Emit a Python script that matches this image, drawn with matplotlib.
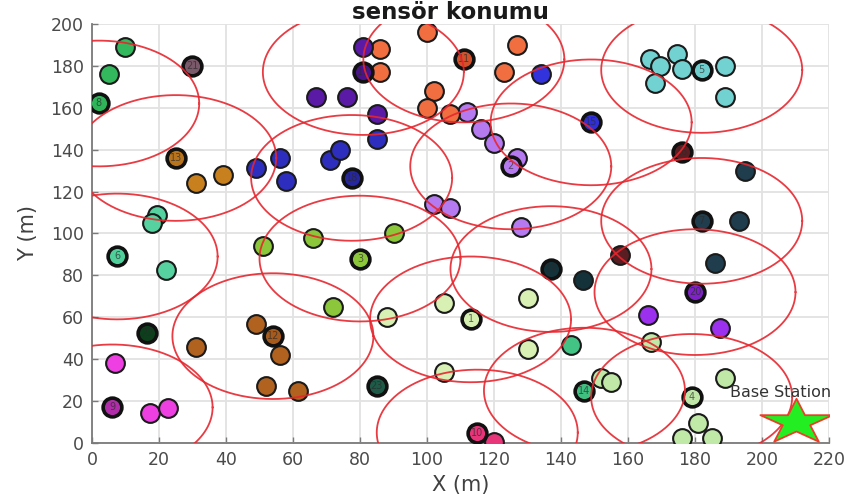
import numpy as np
import matplotlib
matplotlib.use("Agg")
import matplotlib.pyplot as plt
from matplotlib.path import Path

R = 30  # radio range of a cluster head (m)

# cluster heads: position, label, fill colour, whether its range circle is drawn
head_x = [113, 125, 80, 179, 182, 7.5, 182, 2, 6, 115, 111, 54, 25, 147, 149, 176, 81, 77.5, 137, 180, 30, 16.5, 85]
head_y = [59, 132, 88, 22, 178, 89, 106, 162, 17, 5, 183, 51, 136, 25, 153, 139, 177, 126.5, 83, 72, 180, 52.5, 27]
head_lbl = ['1', '2', '3', '4', '5', '6', '7', '8', '9', '10', '11', '12', '13', '14', '15',
            '16', '17', '18', '19', '20', '21', '22', '23']
head_col = ['#d4efb0', '#b57af0', '#8cc63a', '#bfe6a6', '#6fcfcf', '#4fcf9a', '#1f3d4c', '#2fb45a',
            '#b02ca8', '#e8357a', '#d2502a', '#a65a1c', '#b8741c', '#3fbf80', '#2f2fd8', '#5a1e22',
            '#4a138e', '#26269e', '#13323a', '#7e22c8', '#7a5a6a', '#0d3f1c', '#1d5a47']
has_circle = [1, 1, 1, 1, 1, 1, 1, 1, 1, 1, 1, 1, 1, 1, 1, 0, 1, 1, 1, 1, 0, 0, 0]

# member nodes: position and the head they belong to
node_x = [88, 105, 130, 130, 105,
          112, 116, 120, 127, 102, 107, 128,
          51, 66, 90, 72,
          152, 155, 189, 181, 176, 185, 167,
          166.6, 169.5, 174.6, 176, 189, 168, 189,
          19.4, 18, 22,
          195, 193, 186,
          10, 5,
          7, 17.3, 22.7,
          120,
          86, 86, 100, 127, 123, 102, 100, 107,
          49, 56, 52, 61.5, 31,
          31, 39,
          143,
          134,
          157.6,
          81, 67, 76, 85,
          49, 56, 58, 71, 74, 85,
          146.6,
          166, 187.5]
node_y = [60, 67, 69, 45, 34,
          158, 150, 143, 136, 114, 112, 103,
          94, 98, 100, 65,
          31, 29, 31, 9.5, 2.5, 2.5, 48,
          183, 180, 185.7, 178.6, 180, 172, 165,
          108.6, 105, 82.4,
          130, 106, 86,
          189, 176,
          38, 14.3, 16.7,
          0.5,
          188, 177, 196, 190, 177, 168, 160, 157,
          57, 42, 27, 25, 46,
          124, 128,
          47,
          176,
          89.5,
          189, 165, 165, 157,
          131, 136, 125, 135, 140, 145,
          77.6,
          61, 55]
node_head = [0] * 5 + [1] * 7 + [2] * 4 + [3] * 7 + [4] * 7 + [5] * 3 + [6] * 3 + [7] * 2 + \
            [8] * 3 + [9] + [10] * 8 + [11] * 5 + [12] * 2 + [13] + [14] + [15] + [16] * 4 + \
            [17] * 6 + [18] + [19] * 2

member_col = ['#d8f0b4', '#b57af0', '#8cc63a', '#c0e8a6', '#72d2d2', '#55d2a0', '#1f3d4c', '#34b85e',
              '#ee40e2', '#e8357a', '#f06e40', '#b0621e', '#c8801e', '#44c484', '#3333dd', '#5a1e22',
              '#5a1aa6', '#2e2ebe', '#13323a', '#9b30ee', '#7a5a6a', '#0d3f1c', '#1d5a47']

bs_x, bs_y = 210, 10

fig = plt.figure(figsize=(8.55, 4.99), dpi=100)
ax = fig.add_axes([0.1076, 0.1122, 0.862, 0.840])

# members first, heads on top of them
for i in range(len(node_x)):
    ax.plot(node_x[i], node_y[i], 'o', ms=13.5, mfc=member_col[node_head[i]],
            mec='#1a1a1a', mew=1.5, zorder=3)
for i in range(len(head_x)):
    ax.plot(head_x[i], head_y[i], 'o', ms=13.5, mfc=head_col[i], mec='#111111', mew=2.6, zorder=4)
    ax.text(head_x[i], head_y[i], head_lbl[i], fontsize=7, ha='center', va='center',
            color='#2a2a2a', alpha=0.7, zorder=5)

# range circles around the heads
t = np.linspace(0, 2 * np.pi, 300)
for i in range(len(head_x)):
    if has_circle[i]:
        ax.plot(head_x[i] + R * np.cos(t), head_y[i] + R * np.sin(t), color='#e6262e',
                lw=1.3, alpha=0.9, zorder=6)

# base station: five point star, stretched sideways
ang = np.pi / 2 + np.arange(10) * np.pi / 5
rad = np.where(np.arange(10) % 2 == 0, 1.0, 0.38)
star_v = np.column_stack([1.6 * rad * np.cos(ang), rad * np.sin(ang)])
star = Path(np.vstack([star_v, star_v[:1]]), closed=True)
ax.plot(bs_x, bs_y, marker=star, ms=52, mfc='#22ee22', mec='#e8402a', mew=1.3, ls='none', zorder=7)
ax.text(190.5, 22, 'Base Station', fontsize=11.5, color='#333333', va='baseline', zorder=8)

ax.set_xlim(0, 220)
ax.set_ylim(0, 200)
ax.set_xticks(np.arange(0, 221, 20))
ax.set_yticks(np.arange(0, 201, 20))
ax.grid(True, color='#e2e2e2', lw=1.3)
ax.set_axisbelow(True)
for s in ['top', 'right']:
    ax.spines[s].set_visible(False)
for s in ['left', 'bottom']:
    ax.spines[s].set_color('#7a7a7a')
    ax.spines[s].set_linewidth(1.3)
ax.tick_params(direction='in', length=4, width=1, colors='#7a7a7a', labelcolor='#4a4a4a',
               labelsize=12.5, pad=6)

ax.set_xlabel('X (m)', fontsize=15, color='#404040', labelpad=4)
ax.set_ylabel('Y (m)', fontsize=15, color='#404040', labelpad=9)
ax.set_title('sensör konumu', fontsize=16.5, fontweight='bold', color='#1a1a1a', x=0.487, pad=1.5)

fig.savefig('out.png', dpi=100)
